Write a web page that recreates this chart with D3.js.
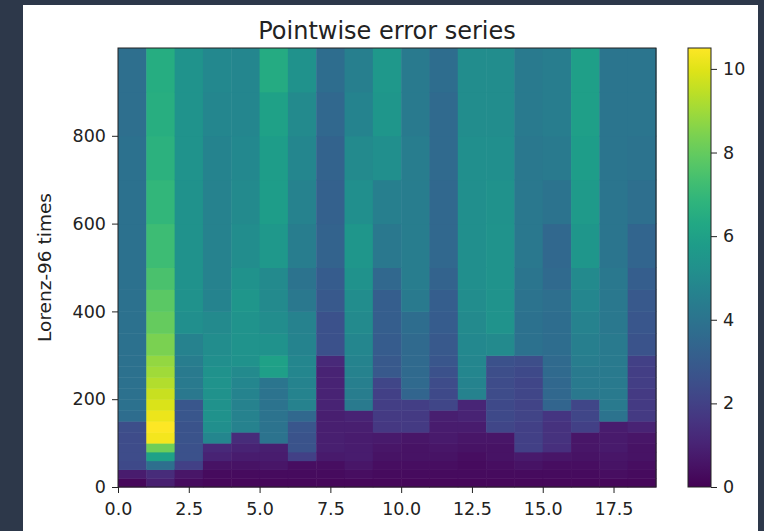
<!DOCTYPE html>
<html>
<head>
<meta charset="utf-8">
<script src="https://cdn.jsdelivr.net/npm/d3@7"></script>
<style>
  body { margin: 0; background: #2d384a; }
  svg { display: block; }
  text { font-family: "DejaVu Sans", sans-serif; fill: #222; }
</style>
</head>
<body>
<svg id="chart" width="764" height="531"></svg>
<script>
// time band edges (Lorenz-96 time steps), bottom to top
var timeEdges = [0, 20, 40, 60, 80, 100, 125, 150, 175, 200, 225, 250, 275, 300, 350, 400, 450, 500, 600, 700, 800, 900, 1000];

// pointwise error, one array per state variable (column), bands bottom -> top
var errorByColumn = [
  [0.2, 0.8, 2.3, 2.4, 2.4, 2.4, 2.5, 3.7, 3.9, 3.9, 3.9, 3.9, 3.9, 3.9, 3.9, 3.9, 3.9, 3.9, 3.9, 3.9, 3.8, 3.8],
  [0.9, 1.3, 3.8, 6.0, 8.2, 10.3, 10.5, 10.2, 9.9, 9.6, 9.3, 9.0, 8.8, 8.4, 8.0, 7.8, 7.5, 7.2, 6.9, 6.7, 6.6, 6.5],
  [0.3, 0.6, 2.0, 2.6, 2.6, 2.7, 2.7, 2.8, 2.8, 4.2, 4.3, 4.3, 4.4, 4.6, 5.2, 5.3, 5.3, 5.3, 5.3, 5.4, 5.4, 5.4],
  [0.2, 0.3, 0.5, 1.0, 1.2, 4.8, 5.2, 5.3, 5.3, 5.3, 5.4, 5.3, 5.2, 5.1, 5.0, 4.7, 4.6, 4.6, 4.6, 4.7, 4.8, 4.9],
  [0.2, 0.3, 0.5, 0.8, 1.0, 1.3, 4.6, 4.6, 4.6, 4.7, 4.8, 5.0, 5.3, 5.4, 5.4, 5.5, 5.3, 5.1, 5.0, 4.9, 4.8, 4.8],
  [0.2, 0.3, 0.6, 0.8, 0.9, 4.0, 4.0, 4.0, 4.0, 4.0, 4.1, 5.9, 6.0, 5.3, 5.1, 5.0, 5.0, 5.6, 5.8, 5.8, 6.0, 6.4],
  [0.2, 0.3, 0.4, 2.0, 2.7, 2.7, 2.8, 3.5, 4.6, 4.7, 4.7, 4.8, 4.8, 4.7, 4.6, 4.2, 4.0, 4.4, 4.6, 4.8, 5.0, 5.3],
  [0.2, 0.3, 0.4, 0.7, 0.9, 0.9, 0.9, 0.9, 1.0, 1.0, 1.0, 1.0, 1.2, 2.6, 2.6, 2.9, 3.0, 3.3, 3.2, 3.3, 3.5, 3.7],
  [0.2, 0.4, 0.6, 0.8, 0.8, 0.8, 0.9, 1.0, 4.3, 4.4, 4.5, 4.6, 4.7, 4.8, 5.0, 5.1, 5.3, 5.5, 5.2, 5.0, 4.7, 4.5],
  [0.2, 0.3, 0.4, 0.5, 0.6, 0.7, 1.7, 1.8, 1.9, 2.0, 2.2, 2.9, 2.9, 3.0, 3.1, 3.1, 3.5, 4.2, 4.5, 5.2, 5.5, 5.6],
  [0.2, 0.3, 0.4, 0.5, 0.5, 0.6, 1.8, 1.8, 1.9, 3.4, 3.6, 3.6, 3.6, 3.6, 3.7, 4.3, 4.4, 4.4, 4.4, 4.4, 4.3, 4.3],
  [0.2, 0.3, 0.4, 0.5, 0.6, 0.7, 0.8, 0.9, 2.2, 2.3, 2.4, 2.6, 2.8, 2.9, 3.0, 3.1, 3.3, 3.5, 3.5, 3.6, 3.6, 3.7],
  [0.2, 0.3, 0.3, 0.4, 0.5, 0.6, 0.8, 1.0, 1.1, 4.6, 4.7, 4.8, 4.8, 4.9, 5.0, 5.1, 5.2, 5.2, 5.2, 5.2, 5.1, 5.1],
  [0.2, 0.3, 0.4, 0.5, 0.5, 0.6, 2.2, 2.3, 2.3, 2.4, 2.4, 2.5, 2.6, 5.0, 5.4, 5.4, 5.4, 5.4, 5.3, 5.2, 5.1, 5.1],
  [0.2, 0.3, 0.5, 0.7, 2.0, 2.0, 2.0, 2.1, 2.1, 2.2, 2.2, 2.3, 2.5, 3.9, 3.9, 4.0, 4.1, 4.2, 4.2, 4.2, 4.3, 4.3],
  [0.2, 0.3, 0.4, 0.6, 1.4, 1.5, 1.5, 1.6, 3.4, 3.5, 3.5, 3.6, 3.6, 3.7, 3.7, 3.8, 3.6, 3.5, 4.0, 4.3, 4.4, 4.4],
  [0.2, 0.3, 0.4, 0.5, 0.6, 0.6, 2.0, 2.2, 2.2, 4.2, 4.3, 4.3, 4.4, 4.5, 4.6, 4.8, 5.0, 5.5, 5.7, 5.8, 5.9, 5.9],
  [0.2, 0.4, 0.5, 0.6, 0.7, 0.7, 0.8, 4.0, 4.3, 4.3, 4.3, 4.3, 4.3, 4.3, 4.2, 4.2, 4.2, 4.1, 4.1, 4.1, 4.1, 4.1],
  [0.2, 0.3, 0.4, 0.5, 0.5, 0.6, 1.0, 1.8, 1.8, 1.8, 1.9, 1.9, 2.0, 2.7, 2.8, 2.9, 3.1, 3.4, 3.8, 4.0, 4.1, 4.1]
];

var xTicks = [0, 2.5, 5, 7.5, 10, 12.5, 15, 17.5];
var yTicks = [0, 200, 400, 600, 800];
var colorTicks = [0, 2, 4, 6, 8, 10];
var colorMax = 10.5;

var drawChart = function() {
  var svg = d3.select("#chart");

  // white figure panel
  svg.append("rect")
    .attr("x", 23).attr("y", 5)
    .attr("width", 735).attr("height", 526)
    .attr("fill", "#fff");

  var margin = {left: 118, right: 656, top: 48, bottom: 487};

  var x = d3.scaleLinear().domain([0, errorByColumn.length]).range([margin.left, margin.right]);
  var y = d3.scaleLinear().domain([0, 1000]).range([margin.bottom, margin.top]);
  var color = d3.scaleSequential(d3.interpolateViridis).domain([0, colorMax]);

  var cells = [];
  errorByColumn.forEach(function(col, i) {
    col.forEach(function(v, j) {
      cells.push({ col: i, t0: timeEdges[j], t1: timeEdges[j + 1], value: v });
    });
  });

  svg.append("g").selectAll("rect")
    .data(cells)
    .enter()
    .append("rect")
    .attr("x", function(d) { return x(d.col); })
    .attr("y", function(d) { return y(d.t1); })
    .attr("width", function(d) { return x(d.col + 1) - x(d.col) + 0.5; })
    .attr("height", function(d) { return y(d.t0) - y(d.t1) + 0.5; })
    .attr("fill", function(d) { return color(d.value); });

  // frame
  svg.append("rect")
    .attr("x", margin.left).attr("y", margin.top)
    .attr("width", margin.right - margin.left).attr("height", margin.bottom - margin.top)
    .attr("fill", "none").attr("stroke", "#222").attr("stroke-width", 1);

  // axes
  var xAxis = svg.append("g")
    .attr("transform", "translate(0," + margin.bottom + ")")
    .call(d3.axisBottom(x).tickValues(xTicks).tickFormat(d3.format(".1f")).tickSize(6).tickPadding(10));
  var yAxis = svg.append("g")
    .attr("transform", "translate(" + margin.left + ",0)")
    .call(d3.axisLeft(y).tickValues(yTicks).tickSize(6).tickPadding(6));

  [xAxis, yAxis].forEach(function(a) {
    a.select(".domain").remove();
    a.selectAll("line").attr("stroke", "#222");
    a.selectAll("text").style("font-size", "17.5px").attr("fill", "#222");
  });

  // title and label
  svg.append("text")
    .attr("x", (margin.left + margin.right) / 2).attr("y", 39)
    .attr("text-anchor", "middle")
    .style("font-size", "24px")
    .text("Pointwise error series");

  svg.append("text")
    .attr("transform", "translate(51," + ((margin.top + margin.bottom) / 2) + ") rotate(-90)")
    .attr("text-anchor", "middle")
    .style("font-size", "18.5px")
    .text("Lorenz-96 times");

  // colorbar
  var cbLeft = 688, cbWidth = 23;
  var cbScale = d3.scaleLinear().domain([0, colorMax]).range([margin.bottom, margin.top]);

  var grad = svg.append("defs").append("linearGradient")
    .attr("id", "cbGrad")
    .attr("x1", 0).attr("y1", 1).attr("x2", 0).attr("y2", 0);
  grad.selectAll("stop")
    .data(d3.range(0, 1.0001, 0.05))
    .enter()
    .append("stop")
    .attr("offset", function(d) { return d; })
    .attr("stop-color", function(d) { return d3.interpolateViridis(d); });

  svg.append("rect")
    .attr("x", cbLeft).attr("y", margin.top)
    .attr("width", cbWidth).attr("height", margin.bottom - margin.top)
    .attr("fill", "url(#cbGrad)")
    .attr("stroke", "#222").attr("stroke-width", 1);

  var cbAxis = svg.append("g")
    .attr("transform", "translate(" + (cbLeft + cbWidth) + ",0)")
    .call(d3.axisRight(cbScale).tickValues(colorTicks).tickSize(6).tickPadding(6));
  cbAxis.select(".domain").remove();
  cbAxis.selectAll("line").attr("stroke", "#222");
  cbAxis.selectAll("text").style("font-size", "17.5px").attr("fill", "#222");
};

drawChart();
</script>
</body>
</html>
